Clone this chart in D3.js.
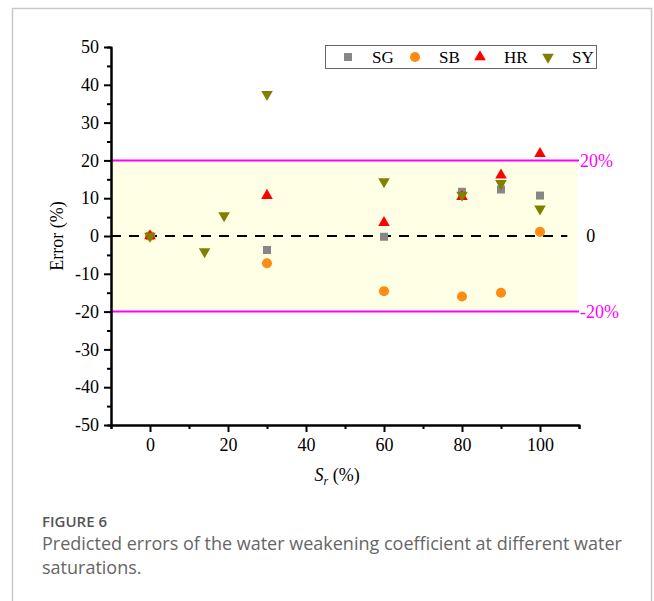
<!DOCTYPE html>
<html>
<head>
<meta charset="utf-8">
<script src="https://cdn.jsdelivr.net/npm/d3@7"></script>
<style>
  html, body { margin: 0; padding: 0; background: #fff; }
  svg { display: block; }
</style>
</head>
<body>
<svg id="chart" width="654" height="601"></svg>
<script>
// Water saturation levels and prediction errors (%) for each model
const sgSr = [0, 30, 60, 80, 90, 100];
const sgErr = [0, -3.7, -0.2, 11.7, 12.3, 10.7];
const sbSr = [0, 30, 60, 80, 90, 100];
const sbErr = [0, -7.2, -14.6, -16.0, -15.0, 1.1];
const hrSr = [0, 30, 60, 80, 90, 100];
const hrErr = [0, 10.7, 3.5, 10.4, 16.1, 21.8];
const sySr = [0, 14, 19, 30, 60, 80, 90, 100];
const syErr = [0, -4.1, 5.4, 37.5, 14.4, 10.8, 13.9, 7.2];

const seriesNames = ["SG", "SB", "HR", "SY"];
const xTicks = [0, 20, 40, 60, 80, 100];
const yTicks = [-50, -40, -30, -20, -10, 0, 10, 20, 30, 40, 50];
const bandLimits = [-20, 20];
const bandLabels = ["-20%", "20%"];

const series = [
  { name: "SG", xs: sgSr, ys: sgErr, type: d3.symbolSquare, size: 64, color: "#878787", rot: 0 },
  { name: "SB", xs: sbSr, ys: sbErr, type: d3.symbolCircle, size: 80, color: "#ff8a14", rot: 0 },
  { name: "HR", xs: hrSr, ys: hrErr, type: d3.symbolTriangle, size: 58, color: "#ff0000", rot: 0 },
  { name: "SY", xs: sySr, ys: syErr, type: d3.symbolTriangle, size: 58, color: "#808000", rot: 180 }
];

const svg = d3.select("#chart");
const serif = "'Liberation Serif', 'Times New Roman', serif";
const sans = "'Open Sans', 'Noto Sans', sans-serif";
// plain hyphen for negative numbers
const fmt = d => String(d);

// Outer panel frame
svg.append("path")
  .attr("d", "M12.5,601 V8.5 H651.5 V601")
  .attr("fill", "none")
  .attr("stroke", "#c9c9c9")
  .attr("stroke-width", 1.5);

const x = d3.scaleLinear().domain([-10, 110]).range([111, 579]);
const y = d3.scaleLinear().domain([-50, 50]).range([425, 47]);

// Acceptable error band (±20%)
svg.append("rect")
  .attr("x", x(-10))
  .attr("y", y(bandLimits[1]))
  .attr("width", x(109.5) - x(-10))
  .attr("height", y(bandLimits[0]) - y(bandLimits[1]))
  .attr("fill", "#ffffe6");

bandLimits.forEach((v, i) => {
  svg.append("line")
    .attr("x1", x(-10)).attr("x2", x(110))
    .attr("y1", y(v)).attr("y2", y(v))
    .attr("stroke", "#ff00ff").attr("stroke-width", 2);
  svg.append("text")
    .attr("x", x(110) + 1)
    .attr("y", y(v))
    .attr("dy", "0.35em")
    .attr("fill", "#ff00ff")
    .style("font-family", serif)
    .style("font-size", "18px")
    .text(bandLabels[i]);
});

// Zero reference line
svg.append("line")
  .attr("x1", x(-10)).attr("x2", x(107))
  .attr("y1", y(0)).attr("y2", y(0))
  .attr("stroke", "#000").attr("stroke-width", 2)
  .attr("stroke-dasharray", "10,8");
svg.append("text")
  .attr("x", x(113))
  .attr("y", y(0))
  .attr("dy", "0.35em")
  .attr("text-anchor", "middle")
  .style("font-family", serif)
  .style("font-size", "18px")
  .text("0");

// Axes: minor ticks first, then major ticks with labels
const yMinor = d3.range(-45, 50, 10);
const xMinor = [-10, 10, 30, 50, 70, 90, 110];

function styleAxis(g) {
  g.attr("font-family", null).attr("font-size", null);
  g.select(".domain").attr("stroke", "#000").attr("stroke-width", 2);
  g.selectAll(".tick line").attr("stroke", "#000").attr("stroke-width", 2);
  g.selectAll(".tick text")
    .style("font-family", serif)
    .style("font-size", "18px")
    .attr("fill", "#000");
}

svg.append("g")
  .attr("transform", `translate(${x(-10)},0)`)
  .call(d3.axisLeft(y).tickValues(yMinor).tickSize(4).tickFormat(""))
  .call(styleAxis);
svg.append("g")
  .attr("transform", `translate(${x(-10)},0)`)
  .call(d3.axisLeft(y).tickValues(yTicks).tickSize(7).tickSizeOuter(0).tickPadding(5).tickFormat(fmt))
  .call(styleAxis);

svg.append("g")
  .attr("transform", `translate(0,${y(-50)})`)
  .call(d3.axisBottom(x).tickValues(xMinor).tickSize(4).tickFormat(""))
  .call(styleAxis);
svg.append("g")
  .attr("transform", `translate(0,${y(-50)})`)
  .call(d3.axisBottom(x).tickValues(xTicks).tickSize(7).tickSizeOuter(0).tickPadding(6).tickFormat(fmt))
  .call(styleAxis);

// Axis titles
svg.append("text")
  .attr("transform", `translate(57,${y(0)}) rotate(-90)`)
  .attr("text-anchor", "middle")
  .attr("dy", "0.35em")
  .style("font-family", serif)
  .style("font-size", "18px")
  .text("Error (%)");

const xt = svg.append("text")
  .attr("x", x(48))
  .attr("y", 481)
  .attr("text-anchor", "middle")
  .style("font-family", serif)
  .style("font-size", "18px");
xt.append("tspan").style("font-style", "italic").text("S");
xt.append("tspan").style("font-style", "italic").style("font-size", "12px").attr("dy", 4).text("r");
xt.append("tspan").attr("dy", -4).text(" (%)");

// Data markers
series.forEach(s => {
  const sym = d3.symbol().type(s.type).size(s.size);
  svg.append("g")
    .selectAll("path")
    .data(s.xs.map((v, i) => [v, s.ys[i]]))
    .join("path")
    .attr("d", sym)
    .attr("transform", d => `translate(${x(d[0])},${y(d[1])}) rotate(${s.rot})`)
    .attr("fill", s.color);
});

// Legend
const legend = svg.append("g");
legend.append("rect")
  .attr("x", 325.5).attr("y", 45.5)
  .attr("width", 271).attr("height", 23)
  .attr("fill", "#fff")
  .attr("stroke", "#666").attr("stroke-width", 1);
const legendX = [348, 415, 480, 548];
series.forEach((s, i) => {
  legend.append("path")
    .attr("d", d3.symbol().type(s.type).size(s.size)())
    .attr("transform", `translate(${legendX[i]},57) rotate(${s.rot})`)
    .attr("fill", s.color);
  legend.append("text")
    .attr("x", legendX[i] + 24)
    .attr("y", 57)
    .attr("dy", "0.35em")
    .style("font-family", serif)
    .style("font-size", "17px")
    .text(seriesNames[i]);
});

// Figure caption
svg.append("text")
  .attr("x", 42).attr("y", 527)
  .attr("fill", "#555")
  .style("font-family", sans)
  .style("font-size", "15px")
  .style("font-weight", 600)
  .text("FIGURE 6");
svg.append("text")
  .attr("x", 42).attr("y", 550)
  .attr("fill", "#666")
  .style("font-family", sans)
  .style("font-size", "18px")
  .text("Predicted errors of the water weakening coefficient at different water");
svg.append("text")
  .attr("x", 42).attr("y", 574)
  .attr("fill", "#666")
  .style("font-family", sans)
  .style("font-size", "18px")
  .text("saturations.");
</script>
</body>
</html>
